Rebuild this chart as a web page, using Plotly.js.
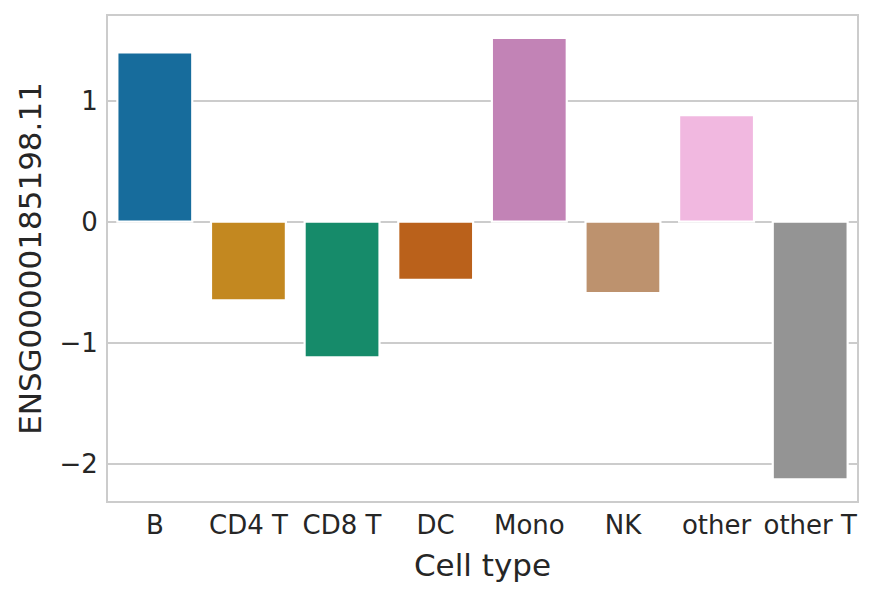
<!DOCTYPE html>
<html>
<head>
<meta charset="utf-8">
<script src="https://cdn.plot.ly/plotly-3.0.1.min.js"></script>
<style>html,body{margin:0;padding:0;background:#fff;}#chart{width:874px;height:597px;}</style>
</head>
<body>
<div id="chart"></div>
<script>
const categories = ["B", "CD4 T", "CD8 T", "DC", "Mono", "NK", "other", "other T"];
const values = [1.40, -0.65, -1.12, -0.48, 1.52, -0.59, 0.88, -2.13];
const barColors = ["#176c9c", "#c38820", "#168b6a", "#ba611b", "#c283b6", "#bd926e", "#f1b8e0", "#949494"];
const yTicks = [-2, -1, 0, 1];
const xTitle = "Cell type";
const yTitle = "ENSG00000185198.11";

const trace = {
  type: "bar",
  x: categories,
  y: values,
  marker: { color: barColors, line: { color: "#ffffff", width: 2.2 } },
  hoverinfo: "x+y"
};

const layout = {
  width: 874,
  height: 597,
  margin: { l: 108, r: 17, t: 16, b: 96 },
  paper_bgcolor: "#ffffff",
  plot_bgcolor: "#ffffff",
  font: { family: "DejaVu Sans", color: "#262626", size: 26 },
  bargap: 0.2,
  showlegend: false,
  xaxis: {
    type: "category",
    showgrid: false,
    showline: true, mirror: true, linecolor: "#cccccc", linewidth: 2,
    ticks: "", ticklabelstandoff: 0,
    tickfont: { size: 26 },
    title: { text: xTitle, font: { size: 31 }, standoff: 15 },
    automargin: false
  },
  yaxis: {
    range: [-2.308, 1.70],
    tickvals: yTicks,
    showgrid: true, gridcolor: "#cccccc", gridwidth: 1.6,
    zeroline: false,
    showline: true, mirror: true, linecolor: "#cccccc", linewidth: 2,
    ticks: "", ticklabelstandoff: 3,
    tickfont: { size: 26 },
    title: { text: yTitle, font: { size: 31 }, standoff: 9 },
    automargin: false
  }
};

Plotly.newPlot("chart", [trace], layout, { displayModeBar: false, staticPlot: true });
</script>
</body>
</html>
